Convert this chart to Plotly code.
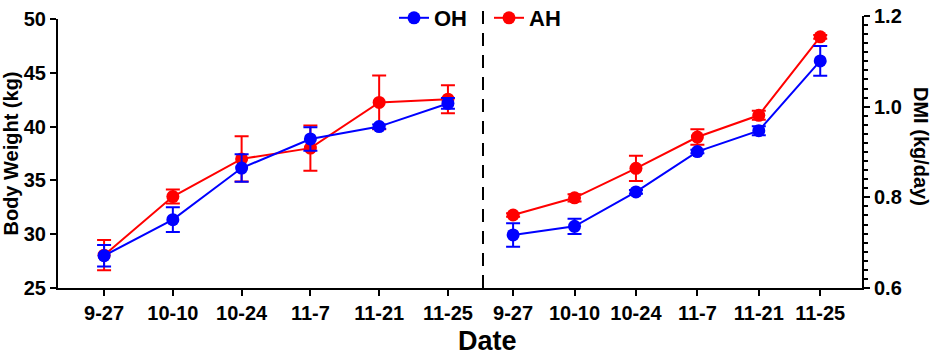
import plotly.graph_objects as go

dates = ["9-27", "10-10", "10-24", "11-7", "11-21", "11-25"]

# Body weight (kg)
bw_oh = [28.0, 31.35, 36.15, 38.85, 40.0, 42.15]
bw_oh_err = [1.0, 1.15, 1.28, 1.1, 0.2, 0.5]
bw_ah = [28.05, 33.5, 37.0, 38.0, 42.25, 42.55]
bw_ah_err = [1.4, 0.65, 2.1, 2.1, 2.5, 1.3]

# DMI (kg/day)
dmi_oh = [0.717, 0.736, 0.812, 0.901, 0.947, 1.101]
dmi_oh_err = [0.026, 0.017, 0.004, 0.004, 0.01, 0.033]
dmi_ah = [0.761, 0.799, 0.864, 0.933, 0.981, 1.154]
dmi_ah_err = [0.004, 0.008, 0.028, 0.017, 0.01, 0.004]

BLUE = "#0000FF"
RED = "#FF0000"
FONT = "Liberation Sans, Arial, sans-serif"

fig = go.Figure()

def add(x, y, err, color, name, xa, ya, show):
    fig.add_trace(go.Scatter(
        x=x, y=y, name=name, mode="lines+markers",
        xaxis=xa, yaxis=ya, showlegend=show, legendgroup=name,
        line=dict(color=color, width=2),
        marker=dict(color=color, size=13),
        error_y=dict(type="data", array=err, visible=True,
                     color=color, thickness=2, width=7),
    ))

# red first so blue draws on top
add(dates, bw_ah, bw_ah_err, RED, "AH", "x", "y", True)
add(dates, dmi_ah, dmi_ah_err, RED, "AH", "x2", "y2", False)
add(dates, bw_oh, bw_oh_err, BLUE, "OH", "x", "y", True)
add(dates, dmi_oh, dmi_oh_err, BLUE, "OH", "x2", "y2", False)

W, H = 935, 356
ml, mr, mt, mb = 58, 73, 16, 68
pw = W - ml - mr
ph = H - mt - mb
split = (483 - ml) / pw

tickfont = dict(family=FONT, size=20, color="black", weight="bold")
common = dict(showline=True, linecolor="black", linewidth=2,
              ticks="outside", ticklen=6, tickwidth=2, tickcolor="black",
              showgrid=False, zeroline=False, tickfont=tickfont, automargin=False)

fig.update_layout(
    width=W, height=H,
    margin=dict(l=ml, r=mr, t=mt, b=mb, autoexpand=False),
    paper_bgcolor="white", plot_bgcolor="white",
    font=dict(family=FONT, color="black"),
    xaxis=dict(domain=[0, split], anchor="y", type="category",
               range=[-0.67, 5.51], **common),
    xaxis2=dict(domain=[split, 1], anchor="y2", type="category",
                range=[-0.49, 5.68], **common),
    yaxis=dict(domain=[0, (288 - 19) / ph], anchor="x", range=[25, 50], dtick=5,
               title=dict(text="Body Weight (kg)", standoff=5,
                          font=dict(family=FONT, size=20, color="black", weight="bold")),
               **common),
    yaxis2=dict(domain=[0, 1], anchor="x2", side="right", range=[0.6, 1.2],
                dtick=0.2, tickformat=".1f",
                minor=dict(dtick=0.02, ticks="outside", ticklen=4, tickwidth=1.5, tickcolor="black"),
                **common),
    legend=dict(orientation="h", traceorder="reversed",
                xref="container", yref="container",
                x=394 / W, xanchor="left", y=1 - 18 / H, yanchor="middle",
                entrywidth=50, entrywidthmode="pixels",
                font=dict(family=FONT, size=22, color="black", weight="bold"),
                bgcolor="rgba(0,0,0,0)"),
    showlegend=True,
)

# dashed divider
fig.add_shape(type="line", xref="paper", yref="paper",
              x0=split, x1=split, y0=0, y1=1 + (mt - 4) / ph,
              line=dict(color="black", width=2, dash="13px,9px"))

# x title
fig.add_annotation(text="Date", xref="paper", yref="paper",
                   x=(488 - ml) / pw, y=-(341 - (mt + ph)) / ph,
                   showarrow=False, xanchor="center", yanchor="middle",
                   font=dict(family="Liberation Sans Narrow, Liberation Sans, Arial", size=27,
                             color="black", weight="bold"))
# right y title
fig.add_annotation(text="DMI (kg/day)", xref="paper", yref="paper",
                   x=1 + (921 - (ml + pw)) / pw, y=1 - (146 - mt) / ph,
                   showarrow=False, textangle=90, xanchor="center", yanchor="middle",
                   font=dict(family=FONT, size=20, color="black", weight="bold"))

fig.write_html("out.html", config={"displayModeBar": False},
               post_script="document.body.style.margin='0';document.body.style.padding='0';")
